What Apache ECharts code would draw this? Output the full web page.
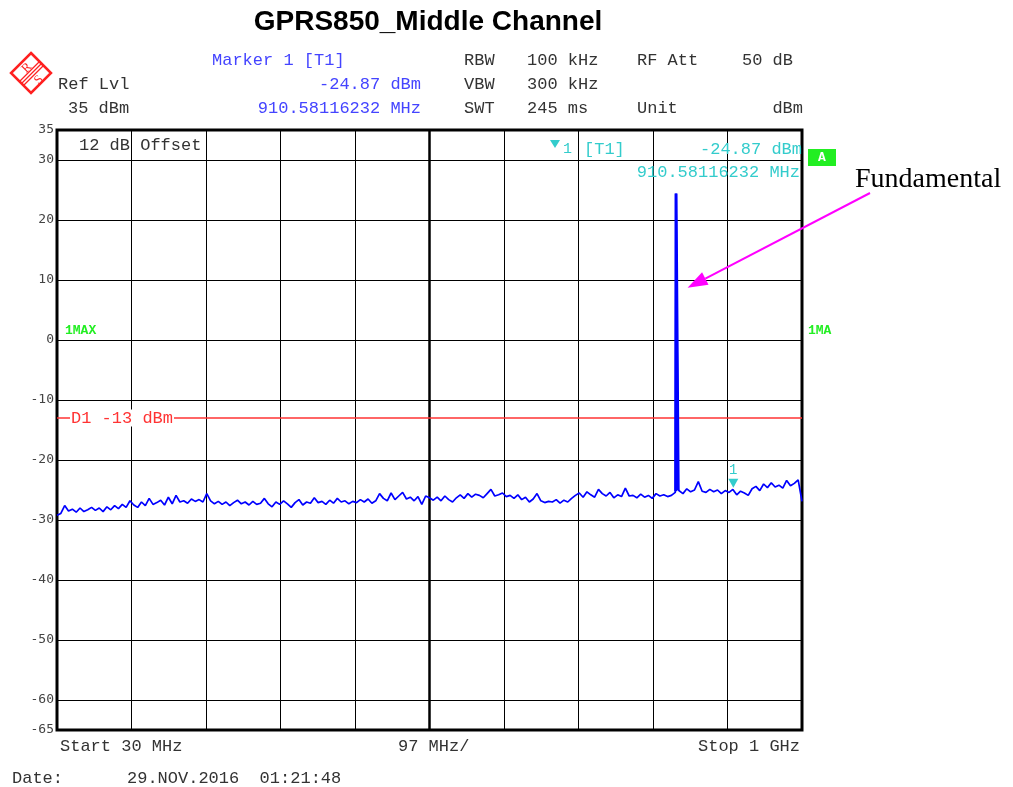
<!DOCTYPE html>
<html>
<head>
<meta charset="utf-8">
<script src="https://cdn.jsdelivr.net/npm/echarts@6/dist/echarts.min.js"></script>
<style>
html, body { margin: 0; padding: 0; background: #fff; }
#chart { width: 1013px; height: 787px; }
</style>
</head>
<body>
<div id="chart"></div>
<script>
// sweep settings (MHz)
var startFreq = 30;
var stopFreq = 1000;
var freqStep = 5;
var spanDiv = 97;

// max-hold trace, one value every 5 MHz from 30 MHz to 1 GHz (dBm)
var traceLevels = [
  -29.2, -28.9, -27.6, -28.5, -28.2, -28.7, -28.0, -28.6, -28.3, -27.9,
  -28.4, -28.0, -28.6, -27.8, -28.3, -27.6, -28.1, -27.4, -27.9, -26.8,
  -27.5, -27.9, -27.0, -27.6, -26.4, -27.4, -27.1, -26.7, -27.5, -26.2,
  -27.3, -25.9, -27.0, -26.8, -27.2, -26.5, -26.9, -26.6, -27.0, -25.6,
  -26.8, -27.3, -26.9, -27.4, -27.0, -27.6, -27.1, -26.7, -27.3, -27.0,
  -27.5, -26.9, -27.4, -27.2, -26.4, -27.3, -27.8, -27.0, -27.4, -26.8,
  -27.3, -27.9, -27.1, -26.6, -27.5, -27.0, -27.2, -26.3, -27.1, -26.9,
  -27.4, -26.7, -27.2, -26.4, -27.0, -26.8, -27.3, -26.9, -27.1, -26.6,
  -27.0, -26.5, -27.2, -26.8, -25.6, -26.4, -26.8, -25.5, -26.6, -26.0,
  -25.4, -26.5, -26.2, -26.8, -26.1, -27.4, -26.0, -26.3, -26.7, -26.2,
  -26.8, -26.0, -26.6, -27.0, -26.3, -25.8, -26.4, -25.6, -26.2, -25.7,
  -25.9, -26.3, -25.6, -24.9, -26.0, -25.8, -25.5, -26.1, -25.9, -26.4,
  -25.8, -26.6, -26.2, -27.0, -26.5, -25.6, -26.8, -27.1, -26.9, -27.0,
  -26.6, -27.2, -26.7, -27.0, -26.4, -25.9, -25.5, -26.2, -25.3, -25.8,
  -26.2, -24.9, -25.6, -26.0, -25.4, -26.3, -25.8, -26.1, -24.7, -26.0,
  -25.9, -26.3, -25.7, -26.2, -25.9, -26.4, -25.6, -26.0, -25.8, -26.1,
  -25.9, -25.4, -25.1, -25.6, -24.8, -25.3, -25.0, -23.6, -25.2, -25.4,
  -24.9, -25.3, -25.0, -25.6, -25.1, -25.4, -24.9, -25.8, -25.2, -25.5,
  -25.9, -24.8, -24.4, -25.1, -24.0, -24.6, -23.8, -24.5, -24.2, -24.7,
  -23.4, -24.3, -23.9, -23.3, -26.9
];
// the fundamental carrier
var peakFreqs = [835.6, 836.0, 838.4, 838.8];
var peakLevels = [-25.2, 24.4, 24.1, -25.0];

var gridLevels = [30, 20, 10, 0, -10, -20, -30, -40, -50, -60];
var yLabelValues = [35, 30, 20, 10, 0, -10, -20, -30, -40, -50, -60, -65];
var limitLevel = -13;
var markerFreq = 910.58116232;
var markerLevel = -24.87;
var arrowTip = [851, 8.7];

var chart = echarts.init(document.getElementById('chart'));

var mono = 'Liberation Mono, Courier New, monospace';
var dark = '#333333';
var blueTxt = '#4444ff';
var cyan = '#33cccc';
var green = '#22ee22';

// trace points, x as offset from start so split lines fall on each division
var traceData = [];
for (var i = 0; i < traceLevels.length; i++) {
  traceData.push([startFreq + i * freqStep - startFreq, traceLevels[i]]);
}
var peakData = [];
for (var j = 0; j < peakFreqs.length; j++) {
  traceData.push([peakFreqs[j] - startFreq, peakLevels[j]]);
  peakData.push([peakFreqs[j] - startFreq, peakLevels[j]]);
}
traceData.sort(function (a, b) { return a[0] - b[0]; });

var gridMarks = [];
for (var k = 0; k < gridLevels.length; k++) {
  gridMarks.push({ yAxis: gridLevels[k] });
}
gridMarks.push({ xAxis: spanDiv * 5, lineStyle: { width: 2.5 } });
gridMarks.push({ yAxis: limitLevel, lineStyle: { color: '#ff3333', width: 1.5 } });

function txt(x, y, s, color, size, align, weight, family) {
  return {
    type: 'text',
    silent: true,
    z: 100,
    style: {
      x: x, y: y, text: s,
      fill: color || dark,
      font: (weight || 'normal') + ' ' + (size || 17) + 'px ' + (family || mono),
      textAlign: align || 'left',
      verticalAlign: 'middle'
    }
  };
}

var graphics = [
  txt(428, 22, 'GPRS850_Middle Channel', '#000', 28, 'center', 'bold', 'Liberation Sans, Arial, sans-serif'),
  // R&S logo
  {
    type: 'group', x: 31, y: 73, silent: true,
    children: [
      { type: 'polygon', shape: { points: [[0, -20], [20, 0], [0, 20], [-20, 0]] },
        style: { fill: 'none', stroke: '#ff2020', lineWidth: 2.5 } },
      { type: 'line', shape: { x1: 8, y1: -11, x2: -11, y2: 8 }, style: { stroke: '#ff2020', lineWidth: 1.2 } },
      { type: 'line', shape: { x1: 10, y1: -9, x2: -9, y2: 10 }, style: { stroke: '#ff2020', lineWidth: 1.2 } },
      { type: 'line', shape: { x1: 12, y1: -7, x2: -7, y2: 12 }, style: { stroke: '#ff2020', lineWidth: 1.2 } },
      { type: 'text', x: -4, y: -5, rotation: Math.PI / 4,
        style: { text: 'R', fill: '#ff2020', font: '13px Liberation Serif', textAlign: 'center', verticalAlign: 'middle' } },
      { type: 'text', x: 8, y: 7, rotation: Math.PI / 4,
        style: { text: 'S', fill: '#ff2020', font: '13px Liberation Serif', textAlign: 'center', verticalAlign: 'middle' } }
    ]
  },
  txt(58, 84, 'Ref Lvl'),
  txt(68, 108, '35 dBm'),
  txt(212, 60, 'Marker 1 [T1]', blueTxt),
  txt(421, 84, '-24.87 dBm', blueTxt, 17, 'right'),
  txt(421, 108, '910.58116232 MHz', blueTxt, 17, 'right'),
  txt(464, 60, 'RBW'),
  txt(527, 60, '100 kHz'),
  txt(637, 60, 'RF Att'),
  txt(793, 60, '50 dB', dark, 17, 'right'),
  txt(464, 84, 'VBW'),
  txt(527, 84, '300 kHz'),
  txt(464, 108, 'SWT'),
  txt(527, 108, '245 ms'),
  txt(637, 108, 'Unit'),
  txt(803, 108, 'dBm', dark, 17, 'right'),
  // inside the plot
  txt(79, 145, '12 dB Offset'),
  { type: 'polygon', silent: true, z: 100,
    shape: { points: [[550, 140], [560, 140], [555, 148]] }, style: { fill: cyan } },
  txt(563, 149, '1', cyan, 15),
  txt(584, 149, '[T1]', cyan),
  txt(802, 149, '-24.87 dBm', cyan, 17, 'right'),
  txt(800, 172, '910.58116232 MHz', cyan, 17, 'right'),
  { type: 'rect', silent: true, z: 100, shape: { x: 808, y: 149, width: 28, height: 17 }, style: { fill: green } },
  txt(822, 158, 'A', '#ffffff', 13, 'center', 'bold'),
  txt(65, 331, '1MAX', green, 13, 'left', 'bold'),
  txt(808, 331, '1MA', green, 13, 'left', 'bold'),
  // footer
  txt(60, 746, 'Start 30 MHz'),
  txt(398, 746, '97 MHz/'),
  txt(800, 746, 'Stop 1 GHz', dark, 17, 'right'),
  txt(12, 778, 'Date:'),
  txt(127, 778, '29.NOV.2016  01:21:48'),
  txt(855, 180, 'Fundamental', '#000', 28, 'left', 'normal', 'Liberation Serif, Times New Roman, serif')
];

var option = {
  animation: false,
  backgroundColor: '#fff',
  grid: {
    left: 57, right: 211, top: 130, bottom: 57,
    show: true, borderColor: '#000', borderWidth: 3
  },
  xAxis: {
    type: 'value',
    min: 0,
    max: stopFreq - startFreq,
    interval: spanDiv,
    axisLabel: { show: false },
    axisTick: { show: false },
    axisLine: { show: false },
    splitLine: { show: true, lineStyle: { color: '#000', width: 1 } }
  },
  yAxis: {
    type: 'value',
    min: -65,
    max: 35,
    interval: 5,
    axisLine: { show: false },
    axisTick: { show: false },
    splitLine: { show: false },
    axisLabel: {
      showMinLabel: true,
      showMaxLabel: true,
      margin: 3,
      color: '#444',
      fontFamily: 'DejaVu Sans Mono, monospace',
      fontSize: 13,
      formatter: function (v) {
        return yLabelValues.indexOf(v) >= 0 ? String(v) : '';
      }
    }
  },
  series: [
    {
      name: 'grid',
      type: 'line',
      data: [],
      z: 1,
      silent: true,
      markLine: {
        silent: true,
        symbol: 'none',
        label: { show: false },
        lineStyle: { color: '#000', width: 1, type: 'solid' },
        data: gridMarks
      }
    },
    {
      name: 'trace',
      type: 'line',
      data: traceData,
      z: 5,
      showSymbol: false,
      lineStyle: { color: '#0000ff', width: 1.7 },
      markPoint: {
        silent: true,
        symbol: 'triangle',
        symbolRotate: 180,
        symbolSize: [10, 9],
        symbolOffset: [0, -6],
        itemStyle: { color: cyan },
        label: {
          show: true, position: 'top', distance: 1,
          formatter: '1', color: cyan, fontSize: 14, fontFamily: mono
        },
        data: [{ coord: [markerFreq - startFreq, markerLevel] }]
      }
    },
    {
      name: 'carrier',
      type: 'line',
      data: peakData,
      z: 5,
      silent: true,
      showSymbol: false,
      lineStyle: { color: '#0000ff', width: 3 }
    }
  ],
  graphic: graphics
};

chart.setOption(option);

// D1 limit label sits on the red line
var limY = chart.convertToPixel({ gridIndex: 0 }, [0, limitLevel])[1];
var d1 = txt(70, limY, 'D1 -13 dBm', '#ff3333', 17);
d1.style.backgroundColor = '#fff';
d1.style.padding = [0, 1];
graphics.push(d1);

// magenta arrow from the annotation to the carrier
var tip = chart.convertToPixel({ gridIndex: 0 }, [arrowTip[0] - startFreq, arrowTip[1]]);
var from = [870, 193];
var dx = tip[0] - from[0], dy = tip[1] - from[1];
var len = Math.sqrt(dx * dx + dy * dy);
var ux = dx / len, uy = dy / len;
var headL = 20, headW = 7;
var bx = tip[0] - ux * headL, by = tip[1] - uy * headL;
graphics.push({
  type: 'line', silent: true, z: 100,
  shape: { x1: from[0], y1: from[1], x2: bx, y2: by },
  style: { stroke: '#ff00ff', lineWidth: 2 }
});
graphics.push({
  type: 'polygon', silent: true, z: 100,
  shape: { points: [tip, [bx - uy * headW, by + ux * headW], [bx + uy * headW, by - ux * headW]] },
  style: { fill: '#ff00ff' }
});

chart.setOption({ graphic: graphics });
</script>
</body>
</html>
